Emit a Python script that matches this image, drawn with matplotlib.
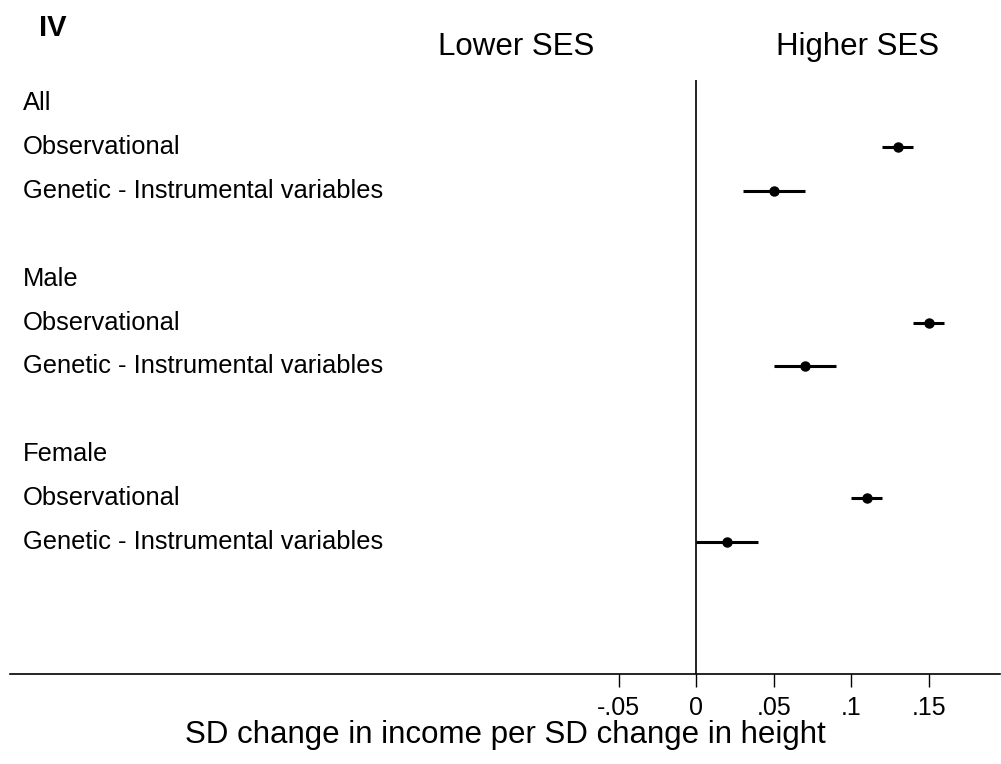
import matplotlib
matplotlib.use("Agg")
import matplotlib.pyplot as plt
import matplotlib.transforms as mtransforms

plt.rcParams['font.family'] = ['Liberation Sans', 'DejaVu Sans']

# row labels from top to bottom (blank rows are spacers)
row_labels = ["All", "Observational", "Genetic - Instrumental variables", "",
              "Male", "Observational", "Genetic - Instrumental variables", "",
              "Female", "Observational", "Genetic - Instrumental variables"]

# estimates and confidence intervals
point_rows = [1, 2, 5, 6, 9, 10]
estimates = [0.13, 0.05, 0.15, 0.07, 0.11, 0.02]
ci_low = [0.12, 0.03, 0.14, 0.05, 0.10, 0.00]
ci_high = [0.14, 0.07, 0.16, 0.09, 0.12, 0.04]

tick_values = [-0.05, 0, 0.05, 0.1, 0.15]
tick_labels = ["-.05", "0", ".05", ".1", ".15"]

fig = plt.figure(figsize=(10.01, 7.64), dpi=100)
ax = fig.add_axes([0.01, 0.1178, 0.989, 0.7775])

ax.axvline(0, color='black', lw=1.2)
ax.hlines(point_rows, ci_low, ci_high, color='black', lw=2.2)
ax.plot(estimates, point_rows, 'o', color='black', ms=6.5)

trans = mtransforms.blended_transform_factory(ax.transAxes, ax.transData)
for i, lab in enumerate(row_labels):
    if lab:
        ax.text(0.013, i, lab, transform=trans, ha='left', va='center', fontsize=18.4)

ax.set_xlim(-0.4426, 0.196)
ax.set_ylim(13, -0.52)
ax.set_yticks([])
ax.set_xticks(tick_values)
ax.set_xticklabels(tick_labels, fontsize=18)
ax.tick_params(axis='x', direction='out', length=9, width=1, pad=7)
for s in ['top', 'right', 'left']:
    ax.spines[s].set_visible(False)
ax.spines['bottom'].set_linewidth(1.2)
ax.set_xlabel("SD change in income per SD change in height", fontsize=22.5, labelpad=0)

fig.text(516 / 1001, 1 - 47 / 764, "Lower SES", ha='center', va='center', fontsize=22.5)
fig.text(857 / 1001, 1 - 47 / 764, "Higher SES", ha='center', va='center', fontsize=22.5)
fig.text(39 / 1001, 1 - 28 / 764, "IV", ha='left', va='center', fontsize=21, fontweight='bold')

fig.savefig("out.png", dpi=100)
